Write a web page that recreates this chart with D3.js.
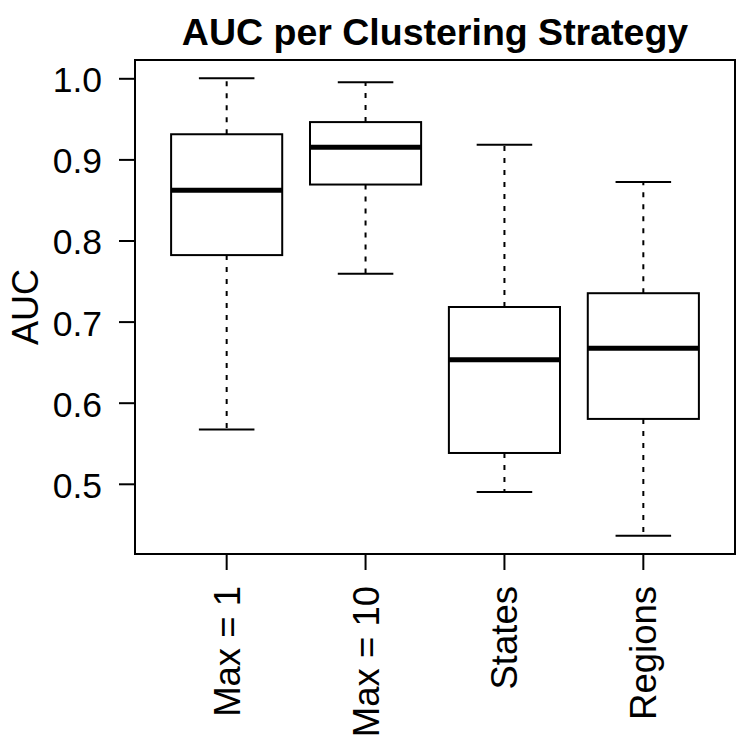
<!DOCTYPE html>
<html>
<head>
<meta charset="utf-8">
<script src="https://cdn.jsdelivr.net/npm/d3@7"></script>
<style>
  html, body { margin: 0; padding: 0; background: #fff; }
  svg { display: block; }
  text { font-family: "Liberation Sans", Arial, Helvetica, sans-serif; fill: #000; }
</style>
</head>
<body>
<svg id="chart" width="750" height="750"></svg>
<script>
const categories = ["Max = 1", "Max = 10", "States", "Regions"];
const lowerWhisker = [0.567, 0.759, 0.490, 0.436];
const q1 = [0.782, 0.869, 0.538, 0.580];
const median = [0.862, 0.915, 0.653, 0.667];
const q3 = [0.931, 0.946, 0.718, 0.735];
const upperWhisker = [1.000, 0.995, 0.918, 0.872];
const yTicks = [0.5, 0.6, 0.7, 0.8, 0.9, 1.0];
const titleText = "AUC per Clustering Strategy";
const yLabel = "AUC";

const svg = d3.select("#chart");
const plot = { left: 135, right: 735, top: 60, bottom: 554 };

const x = d3.scaleLinear().domain([0.34, 4.66]).range([plot.left, plot.right]);
const yMin = d3.min(lowerWhisker), yMax = d3.max(upperWhisker);
const pad = (yMax - yMin) * 0.04;
const y = d3.scaleLinear().domain([yMin - pad, yMax + pad]).range([plot.bottom, plot.top]);

const step = x(2) - x(1);
const boxW = step * 0.8;
const capW = step * 0.4;

const data = categories.map((c, i) => ({
  name: c, pos: i + 1,
  lo: lowerWhisker[i], q1: q1[i], med: median[i], q3: q3[i], hi: upperWhisker[i]
}));

const g = svg.append("g");

// whiskers (dashed)
g.selectAll(".wh-up").data(data).enter().append("line")
  .attr("x1", d => x(d.pos)).attr("x2", d => x(d.pos))
  .attr("y1", d => y(d.q3)).attr("y2", d => y(d.hi))
  .attr("stroke", "#000").attr("stroke-width", 2).attr("stroke-dasharray", "5,7");
g.selectAll(".wh-lo").data(data).enter().append("line")
  .attr("x1", d => x(d.pos)).attr("x2", d => x(d.pos))
  .attr("y1", d => y(d.q1)).attr("y2", d => y(d.lo))
  .attr("stroke", "#000").attr("stroke-width", 2).attr("stroke-dasharray", "5,7");

// caps
g.selectAll(".cap-up").data(data).enter().append("line")
  .attr("x1", d => x(d.pos) - capW / 2).attr("x2", d => x(d.pos) + capW / 2)
  .attr("y1", d => y(d.hi)).attr("y2", d => y(d.hi))
  .attr("stroke", "#000").attr("stroke-width", 2);
g.selectAll(".cap-lo").data(data).enter().append("line")
  .attr("x1", d => x(d.pos) - capW / 2).attr("x2", d => x(d.pos) + capW / 2)
  .attr("y1", d => y(d.lo)).attr("y2", d => y(d.lo))
  .attr("stroke", "#000").attr("stroke-width", 2);

// boxes
g.selectAll(".box").data(data).enter().append("rect")
  .attr("x", d => x(d.pos) - boxW / 2).attr("width", boxW)
  .attr("y", d => y(d.q3)).attr("height", d => y(d.q1) - y(d.q3))
  .attr("fill", "#fff").attr("stroke", "#000").attr("stroke-width", 2);

// medians
g.selectAll(".med").data(data).enter().append("line")
  .attr("x1", d => x(d.pos) - boxW / 2).attr("x2", d => x(d.pos) + boxW / 2)
  .attr("y1", d => y(d.med)).attr("y2", d => y(d.med))
  .attr("stroke", "#000").attr("stroke-width", 5);

// frame
svg.append("rect")
  .attr("x", plot.left).attr("y", plot.top)
  .attr("width", plot.right - plot.left).attr("height", plot.bottom - plot.top)
  .attr("fill", "none").attr("stroke", "#000").attr("stroke-width", 2);

// y axis
const yAxis = d3.axisLeft(y).tickValues(yTicks).tickFormat(d3.format(".1f")).tickSize(16).tickPadding(17);
const ya = svg.append("g").attr("transform", `translate(${plot.left},0)`).call(yAxis);
ya.select(".domain").remove();
ya.selectAll(".tick line").attr("stroke", "#000").attr("stroke-width", 2);
ya.selectAll(".tick text").attr("font-size", 35.5).attr("dy", "0.38em")
  .style("font-family", '"Liberation Sans", Arial, sans-serif');

// x axis
const xa = svg.append("g").attr("transform", `translate(0,${plot.bottom})`);
xa.selectAll("line").data(data).enter().append("line")
  .attr("x1", d => x(d.pos)).attr("x2", d => x(d.pos))
  .attr("y1", 0).attr("y2", 16).attr("stroke", "#000").attr("stroke-width", 2);
xa.selectAll("text").data(data).enter().append("text")
  .attr("transform", d => `translate(${x(d.pos) + 13},${32}) rotate(-90)`)
  .attr("text-anchor", "end").attr("font-size", 36.5)
  .text(d => d.name);

// title
svg.append("text").attr("x", (plot.left + plot.right) / 2).attr("y", 45)
  .attr("text-anchor", "middle").attr("font-size", 37.5).attr("font-weight", "bold")
  .text(titleText);

// y label
svg.append("text")
  .attr("transform", `translate(${38},${(plot.top + plot.bottom) / 2}) rotate(-90)`)
  .attr("text-anchor", "middle").attr("font-size", 36)
  .text(yLabel);
</script>
</body>
</html>
